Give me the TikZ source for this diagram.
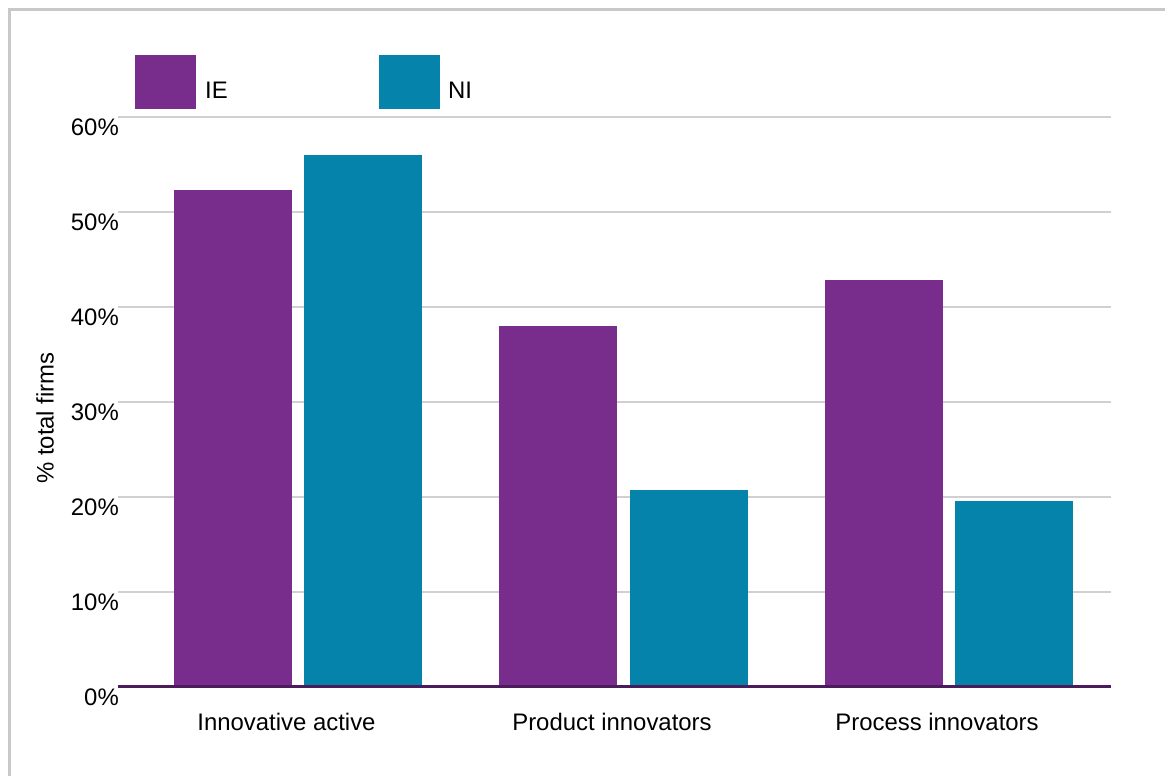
\documentclass[tikz,border=0pt]{standalone}
\usepackage{fontspec}
\setmainfont{Liberation Sans}
\definecolor{iecol}{HTML}{782D8C}
\definecolor{nicol}{HTML}{0583AA}
\definecolor{axiscol}{HTML}{4A1C5C}
\definecolor{gridcol}{HTML}{D0D0D0}
\definecolor{framecol}{HTML}{C8C8C8}
\tikzset{
  lbl/.style={inner sep=0pt, font=\fontsize{24}{28}\selectfont, text=black},
  gridline/.style={draw=gridcol, line width=2bp},
  ax/.style={draw=axiscol, line width=2.5bp},
  frameline/.style={draw=framecol, line width=3bp},
  iebar/.style={fill=iecol},
  nibar/.style={fill=nicol}
}
\begin{document}
\begin{tikzpicture}[x=1bp,y=-1bp]
\useasboundingbox (0,0) rectangle (1165,776);
\fill[white] (0,0) rectangle (1165,776);
% frame
\draw[frameline] (9,776) -- (9,10) -- (1165,10);
% grid lines
\foreach \v/\yy in {60/117,50/212,40/307,30/402,20/497,10/592}{
  \draw[gridline] (118,\yy) -- (1111,\yy);
  \node[lbl, anchor=base east] (y\v) at (119,\yy+18) {\v\%};
}
\node[lbl, anchor=base east] (y0) at (119,705) {0\%};
% bars
\fill[iebar] (174,687) rectangle (292,190);
\fill[nibar] (304,687) rectangle (422,155);
\fill[iebar] (499,687) rectangle (617,326);
\fill[nibar] (630,687) rectangle (748,490);
\fill[iebar] (825,687) rectangle (943,280);
\fill[nibar] (955,687) rectangle (1073,501);
% axis
\draw[ax] (118,686.5) -- (1111,686.5);
% category labels
\node[lbl, anchor=base] (c1) at (286.5,730) {Innovative active};
\node[lbl, anchor=base] (c2) at (612,730) {Product innovators};
\node[lbl, anchor=base] (c3) at (937,730) {Process innovators};
% axis title
\node[lbl, rotate=90] (ytitle) at (45,418) {\% total firms};
% legend
\fill[iebar] (135,55) rectangle (196,109);
\node[lbl, anchor=base west] (lie) at (205,99) {IE};
\fill[nibar] (379,55) rectangle (440,109);
\node[lbl, anchor=base west] (lni) at (448,99) {NI};
\end{tikzpicture}
\end{document}
